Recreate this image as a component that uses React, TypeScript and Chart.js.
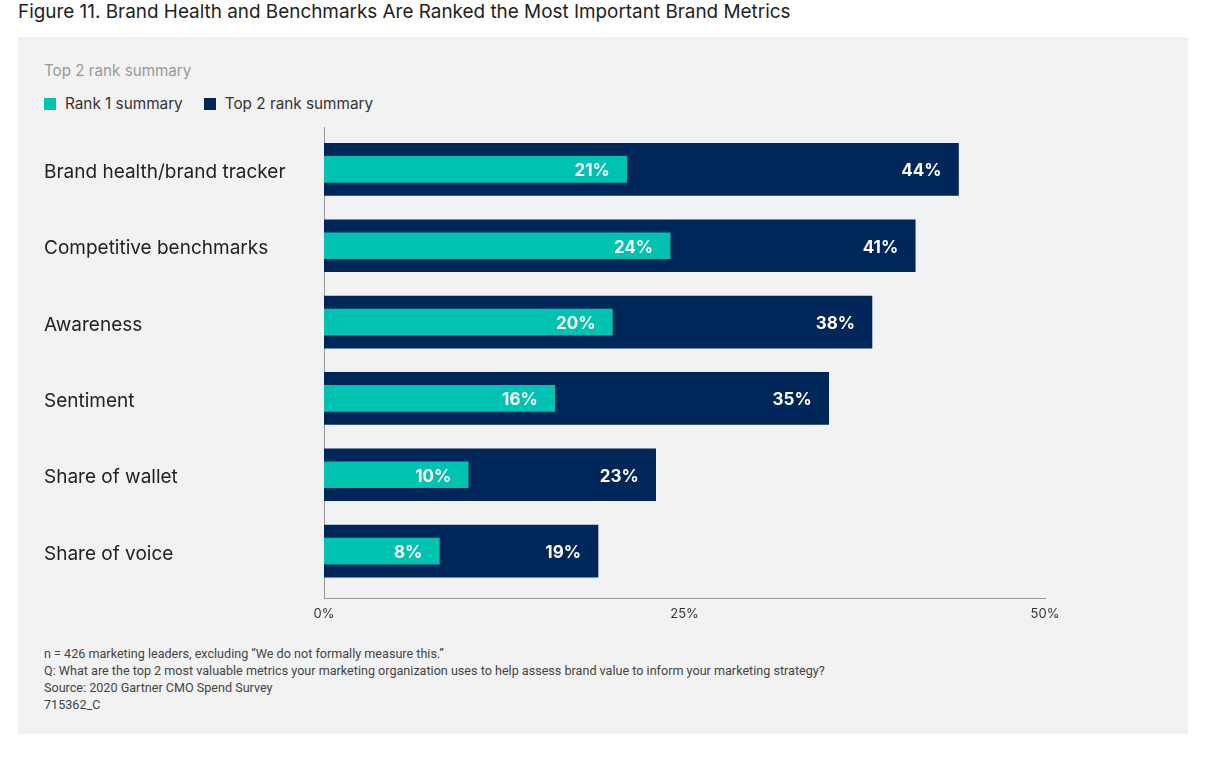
import { useEffect, useRef } from "react";
import { Chart, registerables } from "chart.js";

Chart.register(...registerables);

const categories = [
  "Brand health/brand tracker",
  "Competitive benchmarks",
  "Awareness",
  "Sentiment",
  "Share of wallet",
  "Share of voice",
];
const rankOne = [21, 24, 20, 16, 10, 8];
const topTwo = [44, 41, 38, 35, 23, 19];
const xTicks = [0, 25, 50];

const TEAL = "#00c2b1";
const NAVY = "#00275a";
const FONT = "Inter, 'Noto Sans', sans-serif";

// white value labels, right-aligned just inside each bar's end
const barValueLabels = {
  id: "barValueLabels",
  afterDatasetsDraw(chart: Chart) {
    const ctx = chart.ctx;
    ctx.save();
    ctx.font = `bold 17px ${FONT}`;
    ctx.fillStyle = "#ffffff";
    ctx.textAlign = "right";
    ctx.textBaseline = "middle";
    [1, 0].forEach((di) => {
      const meta = chart.getDatasetMeta(di);
      const values = chart.data.datasets[di].data as number[];
      meta.data.forEach((bar: any, i) => {
        ctx.fillText(`${values[i]}%`, bar.x - 17, bar.y + 2);
      });
    });
    ctx.restore();
  },
};

export default function App() {
  const canvasRef = useRef<HTMLCanvasElement | null>(null);
  const chartRef = useRef<Chart | null>(null);

  useEffect(() => {
    if (!canvasRef.current) return;
    chartRef.current = new Chart(canvasRef.current, {
      type: "bar",
      data: {
        labels: categories,
        datasets: [
          {
            label: "Rank 1 summary",
            data: rankOne,
            backgroundColor: TEAL,
            barThickness: 26,
            grouped: false,
          },
          {
            label: "Top 2 rank summary",
            data: topTwo,
            backgroundColor: NAVY,
            barThickness: 52,
            grouped: false,
          },
        ],
      },
      options: {
        indexAxis: "y",
        responsive: false,
        animation: false,
        layout: { padding: { left: 26, right: 143, top: 6, bottom: 0 } },
        plugins: {
          legend: { display: false },
          tooltip: { enabled: false },
        },
        scales: {
          y: {
            grid: { display: false, drawTicks: false },
            border: { display: true, color: "#999999", width: 1 },
            afterFit: (scale: any) => {
              scale.width = 280;
            },
            // the axis runs a little past the last bar, so widen the
            // category range unevenly (more room at the bottom)
            afterBuildTicks: (scale: any) => {
              scale._startValue = -0.55;
              scale._valueRange = 6.165;
            },
            ticks: {
              crossAlign: "far",
              labelOffset: 3,
              color: "#222222",
              font: { family: FONT, size: 19 },
            },
          },
          x: {
            min: 0,
            max: 50,
            grid: { display: false, drawTicks: false },
            border: { display: true, color: "#999999", width: 1 },
            afterFit: (scale: any) => {
              scale.height = 30;
            },
            afterBuildTicks: (scale: any) => {
              scale.ticks = xTicks.map((v) => ({ value: v }));
            },
            ticks: {
              padding: 8,
              color: "#333333",
              font: { family: FONT, size: 13 },
              callback: (v) => `${v}%`,
            },
          },
        },
      },
      plugins: [barValueLabels],
    });
    return () => {
      chartRef.current?.destroy();
      chartRef.current = null;
    };
  }, []);

  const legendItem = (color: string, text: string) => (
    <div style={{ display: "flex", alignItems: "center", marginRight: 21 }}>
      <span
        style={{
          width: 12,
          height: 12,
          background: color,
          display: "inline-block",
          marginRight: 9,
        }}
      />
      <span>{text}</span>
    </div>
  );

  return (
    <div
      style={{
        position: "absolute",
        left: 0,
        top: 0,
        width: 1206,
        height: 758,
        background: "#ffffff",
        fontFamily: FONT,
        overflow: "hidden",
      }}
    >
      <div
        style={{
          position: "absolute",
          left: 18,
          top: 0,
          fontSize: 18.9,
          color: "#222222",
          lineHeight: "24px",
        }}
      >
        Figure 11. Brand Health and Benchmarks Are Ranked the Most Important
        Brand Metrics
      </div>
      <div
        style={{
          position: "absolute",
          left: 18,
          top: 37,
          width: 1170,
          height: 697,
          background: "#f2f2f2",
        }}
      >
        <div
          style={{
            position: "absolute",
            left: 26,
            top: 24,
            fontSize: 15.2,
            color: "#999999",
            lineHeight: "20px",
          }}
        >
          Top 2 rank summary
        </div>
        <div
          style={{
            position: "absolute",
            left: 26,
            top: 57,
            display: "flex",
            fontSize: 15.3,
            color: "#333333",
            lineHeight: "20px",
          }}
        >
          {legendItem(TEAL, "Rank 1 summary")}
          {legendItem(NAVY, "Top 2 rank summary")}
        </div>
        <canvas
          ref={canvasRef}
          width={1170}
          height={515}
          style={{ position: "absolute", left: 0, top: 76, width: 1170, height: 515 }}
        />
        <div
          style={{
            position: "absolute",
            left: 26,
            top: 608,
            fontFamily: "Roboto, sans-serif",
            fontSize: 12.6,
            color: "#444444",
            lineHeight: "17px",
          }}
        >
          <div>n = 426 marketing leaders, excluding “We do not formally measure this.”</div>
          <div>
            Q: What are the top 2 most valuable metrics your marketing organization uses to
            help assess brand value to inform your marketing strategy?
          </div>
          <div>Source: 2020 Gartner CMO Spend Survey</div>
          <div>715362_C</div>
        </div>
      </div>
    </div>
  );
}
